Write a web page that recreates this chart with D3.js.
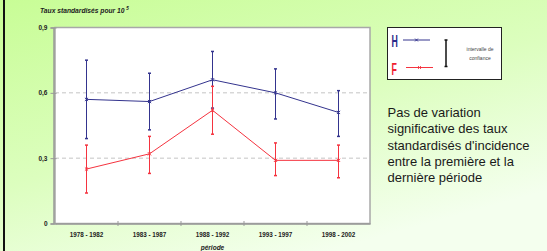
<!DOCTYPE html>
<html>
<head>
<meta charset="utf-8">
<script src="https://cdn.jsdelivr.net/npm/d3@7"></script>
<style>
  body { margin: 0; padding: 0; }
  svg { display: block; font-family: "Liberation Sans", Arial, sans-serif; }
</style>
</head>
<body>
<div id="chart"></div>
<script>
// data
var periods = ["1978 - 1982", "1983 - 1987", "1988 - 1992", "1993 - 1997", "1998 - 2002"];
var hommes = [0.57, 0.56, 0.66, 0.60, 0.51];
var hommesLow = [0.39, 0.43, 0.53, 0.48, 0.40];
var hommesHigh = [0.75, 0.69, 0.79, 0.71, 0.61];
var femmes = [0.25, 0.32, 0.52, 0.29, 0.29];
var femmesLow = [0.14, 0.23, 0.41, 0.22, 0.21];
var femmesHigh = [0.36, 0.40, 0.63, 0.37, 0.36];
var yTicks = [0, 0.3, 0.6, 0.9];
var yTickLabels = ["0", "0,3", "0,6", "0,9"];
var gridValues = [0.3, 0.6];
var noteLines = ["Pas de variation", "significative des taux", "standardisés d'incidence",
                 "entre la première et la", "dernière période"];

var svgWidth = 547;
var svgHeight = 251;

var blue = "#34348e";
var red = "#f5333f";

var svg = d3.select("#chart").append("svg")
  .attr("width", svgWidth)
  .attr("height", svgHeight);

// background gradient
var defs = svg.append("defs");
var grad = defs.append("linearGradient")
  .attr("id", "bg")
  .attr("x1", "0").attr("y1", "0")
  .attr("x2", "0.6").attr("y2", "1");
grad.append("stop").attr("offset", "0").attr("stop-color", "#c8fd96");
grad.append("stop").attr("offset", "0.55").attr("stop-color", "#dcfebe");
grad.append("stop").attr("offset", "1").attr("stop-color", "#f4ffee");

svg.append("rect")
  .attr("width", svgWidth)
  .attr("height", svgHeight)
  .attr("fill", "url(#bg)");

// black border on the left
svg.append("line")
  .attr("x1", 4).attr("x2", 4)
  .attr("y1", 0).attr("y2", svgHeight)
  .attr("stroke", "#111")
  .attr("stroke-width", 2);

// scales
var x = d3.scaleBand()
  .domain(periods)
  .range([55, 370]);

var y = d3.scaleLinear()
  .domain([0, 0.9])
  .range([223.5, 27.5]);

var xc = function(i) { return x(periods[i]) + x.bandwidth() / 2; };

// plot area
svg.append("rect")
  .attr("x", x.range()[0])
  .attr("y", y(0.9))
  .attr("width", x.range()[1] - x.range()[0])
  .attr("height", y(0) - y(0.9))
  .attr("fill", "#fff")
  .attr("stroke", "#a8a8a8")
  .attr("stroke-width", 1.5);

// dashed gridlines
svg.selectAll(".grid")
  .data(gridValues)
  .enter()
  .append("line")
  .attr("class", "grid")
  .attr("x1", x.range()[0])
  .attr("x2", x.range()[1])
  .attr("y1", d => y(d))
  .attr("y2", d => y(d))
  .attr("stroke", "#c4c4c4")
  .attr("stroke-width", 1)
  .attr("stroke-dasharray", "4,3");

// y axis
var yAxis = d3.axisLeft(y)
  .tickValues(yTicks)
  .tickFormat((d, i) => yTickLabels[i])
  .tickSize(3)
  .tickPadding(3);

var gy = svg.append("g")
  .attr("transform", "translate(53.5,0)")
  .call(yAxis);
gy.select(".domain").attr("stroke", "#999").attr("stroke-width", 1.5);
gy.selectAll(".tick line").attr("x1", 3).attr("stroke", "#999");
gy.selectAll(".tick text")
  .attr("font-size", "6.5px")
  .attr("font-weight", "bold")
  .attr("fill", "#222")
  .attr("font-family", "Liberation Sans, Arial, sans-serif");

// x axis
var xAxis = d3.axisBottom(x).tickSize(0).tickPadding(9);
var gx = svg.append("g")
  .attr("transform", `translate(0, ${y(0)})`)
  .call(xAxis);
gx.select(".domain").attr("stroke", "#999").attr("stroke-width", 1.5);
gx.selectAll(".tick text")
  .attr("font-size", "6.3px")
  .attr("font-weight", "bold")
  .attr("fill", "#222")
  .attr("font-family", "Liberation Sans, Arial, sans-serif");

// tick marks between categories
gx.selectAll(".sep")
  .data(periods.slice(1))
  .enter()
  .append("line")
  .attr("class", "sep")
  .attr("x1", d => x(d))
  .attr("x2", d => x(d))
  .attr("y1", -2.5)
  .attr("y2", 2.5)
  .attr("stroke", "#999")
  .attr("stroke-width", 1);

// axis titles
svg.append("text")
  .attr("x", 40)
  .attr("y", 12.5)
  .attr("font-size", "6.7px")
  .attr("font-weight", "bold")
  .attr("font-style", "italic")
  .attr("fill", "#222")
  .text("Taux standardisés pour 10 ")
  .append("tspan")
  .attr("dy", -2.5)
  .attr("font-size", "4.5px")
  .text("5");

svg.append("text")
  .attr("x", (x.range()[0] + x.range()[1]) / 2)
  .attr("y", 250)
  .attr("text-anchor", "middle")
  .attr("font-size", "6.5px")
  .attr("font-weight", "bold")
  .attr("font-style", "italic")
  .attr("fill", "#222")
  .text("période");

// series
function drawSeries(values, low, high, color) {
  var g = svg.append("g");
  var line = d3.line()
    .x((d, i) => xc(i))
    .y(d => y(d));

  // error bars
  g.selectAll(".err")
    .data(values)
    .enter()
    .append("line")
    .attr("x1", (d, i) => xc(i))
    .attr("x2", (d, i) => xc(i))
    .attr("y1", (d, i) => y(low[i]))
    .attr("y2", (d, i) => y(high[i]))
    .attr("stroke", color)
    .attr("stroke-width", 1);

  var caps = low.concat(high);
  g.selectAll(".cap")
    .data(caps)
    .enter()
    .append("line")
    .attr("x1", (d, i) => xc(i % values.length) - 1.5)
    .attr("x2", (d, i) => xc(i % values.length) + 1.5)
    .attr("y1", d => y(d))
    .attr("y2", d => y(d))
    .attr("stroke", color)
    .attr("stroke-width", 1.5);

  g.append("path")
    .datum(values)
    .attr("d", line)
    .attr("fill", "none")
    .attr("stroke", color)
    .attr("stroke-width", 1);

  // x markers
  var cross = d3.symbol().type(d3.symbolX).size(8);
  g.selectAll(".mark")
    .data(values)
    .enter()
    .append("path")
    .attr("d", cross)
    .attr("transform", (d, i) => `translate(${xc(i)},${y(d)})`)
    .attr("fill", "none")
    .attr("stroke", color)
    .attr("stroke-width", 1);
}

drawSeries(hommes, hommesLow, hommesHigh, blue);
drawSeries(femmes, femmesLow, femmesHigh, red);

// legend box
var lg = svg.append("g");
lg.append("rect")
  .attr("x", 387.5)
  .attr("y", 27.5)
  .attr("width", 114)
  .attr("height", 52)
  .attr("fill", "#fff")
  .attr("stroke", "#222")
  .attr("stroke-width", 1);

var legendItems = [
  { label: "H", text: "#2a2a8a", color: blue, y: 40, base: 47, x1: 403, x2: 430 },
  { label: "F", text: "#f02030", color: red, y: 67.5, base: 75, x1: 406, x2: 433 }
];

legendItems.forEach(function(it) {
  lg.append("text")
    .attr("transform", `translate(391.5,${it.base}) scale(0.55,1)`)
    .attr("font-size", "16px")
    .attr("font-weight", "bold")
    .attr("fill", it.text)
    .text(it.label);
  lg.append("line")
    .attr("x1", it.x1).attr("x2", it.x2)
    .attr("y1", it.y).attr("y2", it.y)
    .attr("stroke", it.color)
    .attr("stroke-width", 1);
  lg.append("path")
    .attr("d", d3.symbol().type(d3.symbolX).size(6))
    .attr("transform", `translate(${(it.x1 + it.x2) / 2},${it.y})`)
    .attr("fill", "none")
    .attr("stroke", it.color)
    .attr("stroke-width", 1);
});

// confidence interval symbol
lg.append("line")
  .attr("x1", 446).attr("x2", 446)
  .attr("y1", 40).attr("y2", 66.5)
  .attr("stroke", "#111").attr("stroke-width", 1.5);
lg.selectAll(".icap")
  .data([40, 66.5])
  .enter()
  .append("line")
  .attr("x1", 444.5).attr("x2", 447.5)
  .attr("y1", d => d).attr("y2", d => d)
  .attr("stroke", "#111").attr("stroke-width", 1.5);

lg.append("text")
  .attr("x", 480)
  .attr("y", 51)
  .attr("text-anchor", "middle")
  .attr("font-size", "5px")
  .attr("fill", "#444")
  .text("intervalle de");
lg.append("text")
  .attr("x", 480)
  .attr("y", 59.5)
  .attr("text-anchor", "middle")
  .attr("font-size", "5px")
  .attr("fill", "#444")
  .text("confiance");

// note
svg.selectAll(".note")
  .data(noteLines)
  .enter()
  .append("text")
  .attr("class", "note")
  .attr("x", 387.5)
  .attr("y", (d, i) => 117.3 + i * 16.1)
  .attr("font-size", "13px")
  .attr("fill", "#1a1a1a")
  .text(d => d);
</script>
</body>
</html>
